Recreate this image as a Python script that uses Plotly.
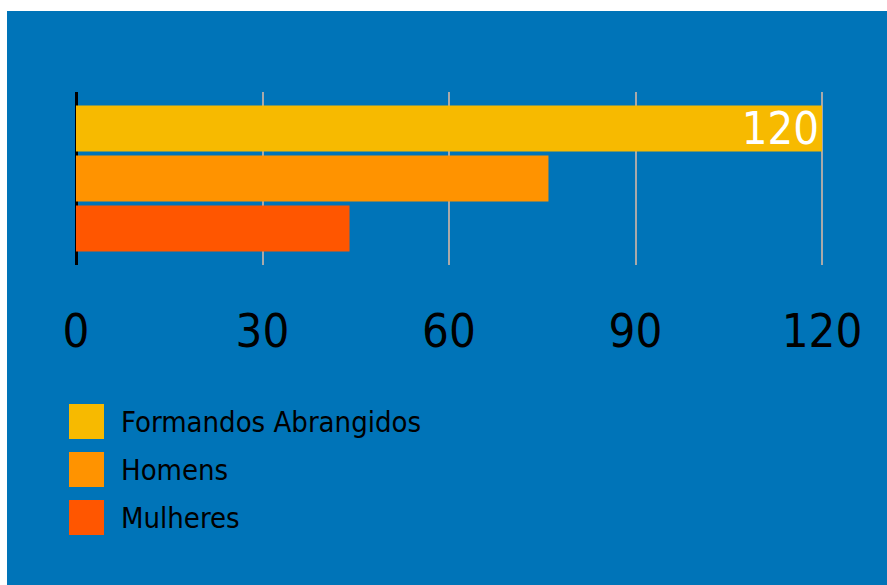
import plotly.graph_objects as go

# ---- data ----
series_names = ["Formandos Abrangidos", "Homens", "Mulheres"]
series_values = [120, 76, 44]
series_colors = ["#F7BA00", "#FF9300", "#FF5600"]
series_labels = ["120", "", ""]
tick_values = [0, 30, 60, 90, 120]
tick_labels = ["0", "30", "60", "90", "120"]

# ---- layout geometry ----
W, H = 887, 585
L, R, T, B = 76, 62, 92, 320
PW, PH = W - L - R, H - T - B
X_MAX = 120 * PW / 746.0  # keep 120 at the same pixel, leave room for its gridline
BLUE = "#0074B8"
FONT = "DejaVu Sans Condensed, Noto Sans, sans-serif"


def fx(px):
    return (px - L) / PW


def fy(py):
    return 1 - (py - T) / PH


fig = go.Figure()
ypos = [2, 1, 0]
for name, val, col, lab, y in zip(series_names, series_values, series_colors, series_labels, ypos):
    fig.add_trace(go.Bar(
        x=[val], y=[y], orientation="h", name=name, width=0.92,
        marker=dict(color=col, line=dict(width=0)),
        text=[lab], textposition="inside", insidetextanchor="end",
        constraintext="none", textangle=0,
        textfont=dict(color="white", size=45, family=FONT),
        showlegend=False, hoverinfo="x+name",
    ))

shapes = [
    dict(type="rect", xref="paper", yref="paper", x0=fx(0), x1=fx(W), y0=fy(0), y1=fy(11),
         fillcolor="white", line=dict(width=0), layer="above"),
    dict(type="rect", xref="paper", yref="paper", x0=fx(0), x1=fx(7), y0=fy(0), y1=fy(H),
         fillcolor="white", line=dict(width=0), layer="above"),
]
annotations = []
leg_top = 404
for i, (name, col) in enumerate(zip(series_names, series_colors)):
    top = leg_top + 48 * i
    shapes.append(dict(type="rect", xref="paper", yref="paper",
                       x0=fx(69), x1=fx(104), y0=fy(top + 35), y1=fy(top),
                       fillcolor=col, line=dict(width=0)))
    annotations.append(dict(xref="paper", yref="paper", x=fx(119), y=fy(top + 17.5),
                            xanchor="left", yanchor="middle", showarrow=False,
                            text=name, font=dict(family=FONT, size=29, color="black")))

fig.update_layout(
    width=W, height=H,
    margin=dict(l=L, r=R, t=T, b=B, autoexpand=False),
    paper_bgcolor=BLUE, plot_bgcolor=BLUE,
    barmode="overlay",
    shapes=shapes, annotations=annotations,
    xaxis=dict(range=[0, X_MAX], tickvals=tick_values, ticktext=tick_labels,
               showgrid=True, gridcolor="#A9A9A9", gridwidth=2,
               zeroline=True, zerolinecolor="black", zerolinewidth=3,
               showline=False, ticks="", ticklabelstandoff=34,
               tickfont=dict(family=FONT, size=47, color="black")),
    yaxis=dict(range=[-0.73, 2.73], showticklabels=False, showgrid=False,
               zeroline=False, showline=False, ticks=""),
    showlegend=False,
)

fig.write_html(
    "out.html",
    config={"displayModeBar": False},
    post_script="document.body.style.margin='0';document.documentElement.style.overflow='hidden';",
)
